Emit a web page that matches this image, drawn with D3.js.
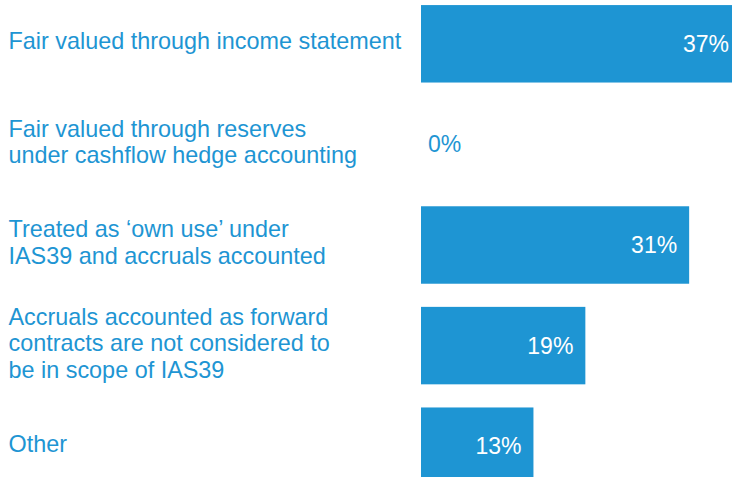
<!DOCTYPE html>
<html>
<head>
<meta charset="utf-8">
<script src="https://cdn.jsdelivr.net/npm/d3@7/dist/d3.min.js"></script>
<style>
  html, body { margin: 0; padding: 0; background: #fff; }
  svg { display: block; }
  text { font-family: Helvetica, "Liberation Sans", Arial, sans-serif; }
</style>
</head>
<body>
<svg id="chart" width="732" height="477"></svg>
<script>
// Accounting treatment of commodity contracts (share of respondents)
const categories = [
  ["Fair valued through income statement"],
  ["Fair valued through reserves", "under cashflow hedge accounting"],
  ["Treated as \u2018own use\u2019 under", "IAS39 and accruals accounted"],
  ["Accruals accounted as forward", "contracts are not considered to", "be in scope of IAS39"],
  ["Other"]
];
const values = [37, 0, 31, 19, 13];
const valueLabels = ["37%", "0%", "31%", "19%", "13%"];

const W = 732, H = 477;
const blue = "#1e95d3";
const labelSize = 23.4;
const valueSize = 23;
const lineHeight = 26.6;

const svg = d3.select("#chart");
const ids = d3.range(values.length);

const x = d3.scaleLinear().domain([0, 37]).range([421, 421 + 37 * 8.65]);
const y = d3.scaleBand().domain(ids).range([-6.5, 496.5])
  .paddingInner(0.23).paddingOuter(0.115);

// bars
svg.append("g").selectAll("rect")
  .data(ids)
  .join("rect")
  .attr("x", x(0))
  .attr("y", i => y(i))
  .attr("width", i => x(values[i]) - x(0))
  .attr("height", y.bandwidth())
  .attr("fill", blue);

// category labels on the left, centred on their bar
const lab = svg.append("g").selectAll("text")
  .data(ids)
  .join("text")
  .attr("fill", blue)
  .attr("font-size", labelSize);
lab.each(function (i) {
  const lines = categories[i];
  const cy = y(i) + y.bandwidth() / 2;
  const first = cy + 5.5 - (lines.length - 1) / 2 * lineHeight;
  d3.select(this).selectAll("tspan")
    .data(lines)
    .join("tspan")
    .attr("x", 8.5)
    .attr("y", (d, k) => first + k * lineHeight)
    .text(d => d);
});

// value labels: inside the bar end, or just right of the axis for empty bars
svg.append("g").selectAll("text")
  .data(ids)
  .join("text")
  .attr("font-size", valueSize)
  .attr("x", i => values[i] > 0 ? x(values[i]) - 12 : x(0) + 7)
  .attr("y", i => y(i) + y.bandwidth() / 2 + 8)
  .attr("text-anchor", i => values[i] > 0 ? "end" : "start")
  .attr("fill", i => values[i] > 0 ? "#fff" : blue)
  .text(i => valueLabels[i]);
</script>
</body>
</html>
